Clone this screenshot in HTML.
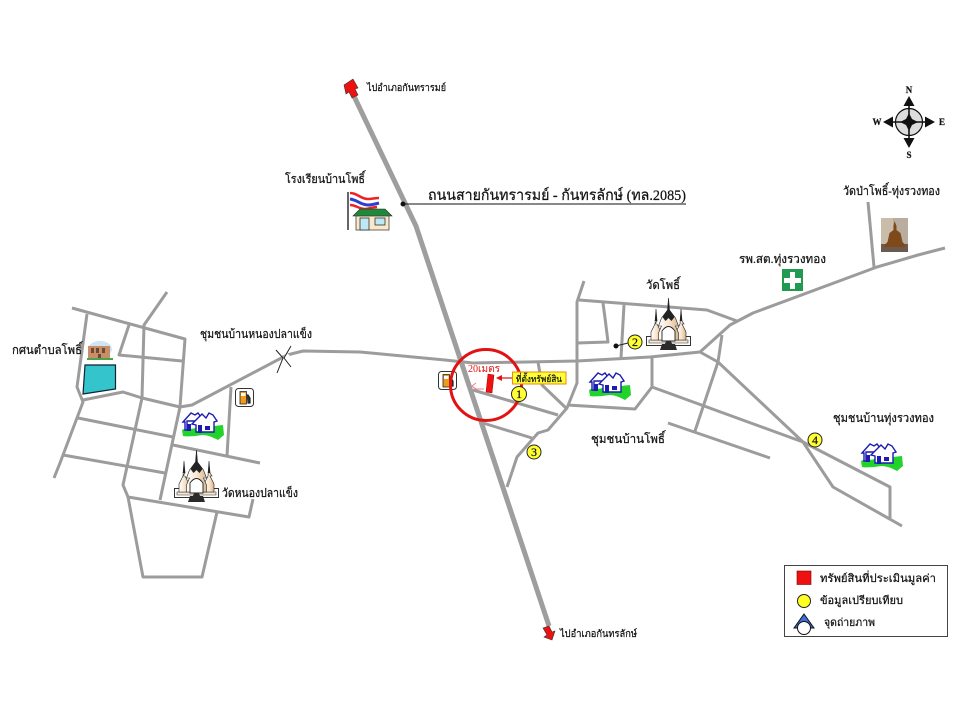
<!DOCTYPE html>
<html lang="th"><head><meta charset="utf-8"><title>แผนที่สังเขป</title>
<style>html,body{margin:0;padding:0;background:#fff}svg{display:block;filter:blur(.3px)}
text{font-family:"Liberation Serif","Noto Serif CJK SC","DejaVu Serif",serif;fill:#111;stroke:#111;stroke-width:.22}
.r{fill:none;stroke:#9c9c9c;stroke-width:3;stroke-linejoin:round;stroke-linecap:butt}
.n{fill:#ffff33;stroke:#222;stroke-width:1}
</style></head><body>
<svg width="960" height="720" viewBox="0 0 960 720" xmlns="http://www.w3.org/2000/svg">
<defs>
<linearGradient id="d" x1="0" y1="0" x2="1" y2="0"><stop offset="0" stop-color="#fff"/><stop offset=".55" stop-color="#f8e4cc"/><stop offset="1" stop-color="#d8b48e"/></linearGradient>
<symbol id="temple" viewBox="0 0 45 52" overflow="visible">
<rect x=".5" y="38.500" width="44" height="9" fill="#fff" stroke="#333" stroke-width="1"/>
<path d="M3 42h39v3H3z" fill="#f5e6d2" stroke="#333" stroke-width=".6"/>
<path d="M10 11l1 12-2 3h2l4 8v8H5v-8l4-8z" fill="url(#d)" stroke="#222" stroke-width=".6"/>
<path d="M35 11l1 12 2 3h-2l4 8v8h-10v-8l4-8z" fill="url(#d)" stroke="#222" stroke-width=".6"/>
<path d="M10 13l1.300 10H8.700zM35 13l1.300 10h-2.600z" fill="#222"/>
<path d="M22.500 0l1 12 6 8 3 8-3 0 3 7v7h-20v-7l3-7-3 0 3-8 6-8z" fill="url(#d)" stroke="#222" stroke-width=".6"/>
<path d="M22.500 0l1 12 5 7-3 4-3-3-3 3-3-4 5-7z" fill="#222"/>
<path d="M16 43V33q6.500-9 13 0v10z" fill="#fff" stroke="#222" stroke-width=".9"/>
<path d="M20 43h5l1 3h3l2 6H14l2-6h3z" fill="#2a2a2a"/>
</symbol>
<symbol id="house" viewBox="0 0 43 29" overflow="visible">
<path d="M1 19c4-3 9 0 13-2l28-3 1 10-6 5c-6-3-10-5-16-5-6 1-13 2-19 1z" fill="#22d32c"/>
<path d="M2 11L10 2l4 2 3-2 3 4 1 4H6v9H4v-8z" fill="#fff" stroke="#1c1cb0" stroke-width="1.400"/>
<path d="M6 13h4v7H6z" fill="#1c1cb0"/>
<path d="M11 13L21 3l4 4 3-5 4 2 4 6-3 1v10H15v-7z" fill="#fff" stroke="#1c1cb0" stroke-width="1.400"/>
<path d="M17 14h4v8h-4zM24 15h5v4h-5z" fill="#1c1cb0"/>
</symbol>
<symbol id="gas" viewBox="0 0 19 19" overflow="visible">
<rect x=".5" y=".5" width="18" height="18" rx="3" fill="#fff" stroke="#333" stroke-width="1"/>
<path d="M5 3.500h6.500V16H5z" fill="#f09a1a" stroke="#222" stroke-width=".8"/>
<rect x="6" y="5" width="4.500" height="3" fill="#fff"/>
<path d="M11.500 7h1.500l2 3v5h-2.500" fill="#333" stroke="#222" stroke-width="1.200"/>
</symbol>
</defs>

<!-- main highway -->
<path d="M352 92L416 226L549 626" fill="none" stroke="#9e9e9e" stroke-width="5"/>

<!-- west network -->
<g class="r">
<path d="M72 308L185 339L180 407"/>
<path d="M87 314L77 387L83 402L60 463L54 478"/>
<path d="M167 292L144 325L142 398L123 485L128 497L143 577L202 577L217 512"/>
<path d="M129 325L119 355L182 361"/>
<path d="M83 400L123 392L142 398L180 407L192 405L287 355L303 351L360 352L445 360L473 363L577 361L650 357L700 352L730 325L753 313L877 267L918 255L945 248"/>
<path d="M78 418L173 437"/>
<path d="M63 455L165 473"/>
<path d="M180 407L160 500"/>
<path d="M128 497L249 517L253 499"/>
<path d="M173 445L260 463"/>
<path d="M231 387L227 456"/>
<!-- centre -->
<path d="M584 281L577 302L577 383L567 408L548 430L538 433L517 457L507 487"/>
<path d="M538 362L542 385L566 408"/>
<path d="M473 390L558 415"/>
<path d="M483 423L532 438"/>
<path d="M567 405L635 409L652 387L652 357"/>
<!-- east -->
<path d="M579 300L707 310L737 321"/>
<path d="M603 303L605 318L608 342L577 343"/>
<path d="M624 305L621 358"/>
<path d="M652 387L803 442L890 487L890 518"/>
<path d="M700 352L718 362L803 442L833 487L902 526"/>
<path d="M722 335L718 362L695 431"/>
<path d="M668 423L770 458"/>
<path d="M868 202L874 267"/>
</g>

<!-- road break -->
<path d="M282 363L288 354" fill="none" stroke="#fff" stroke-width="4"/>
<path d="M291 346L284 358L291 367M276 350L283 358L277 373" fill="none" stroke="#222" stroke-width="1"/>

<!-- road end arrows -->
<path d="M344 85L353 79L358 88L355 89L358 95L352 98L349 92L346 94z" fill="#ee1111" stroke="#333" stroke-width=".6"/>
<path d="M543 628L549 626L552 632L555 631L552 640L544 637L547 635z" fill="#ee1111" stroke="#333" stroke-width=".6"/>

<!-- nongkran / teal plot -->
<path d="M85 365H115.500V389L83 394z" fill="#33c4cc" stroke="#123" stroke-width="1.200"/>
<g>
<ellipse cx="100" cy="349" rx="12" ry="8" fill="#cfe4f5"/>
<path d="M88 346h22v12H88z" fill="#c98d68"/>
<path d="M91 348h3v5h-3zM96 348h3v5h-3zM102 348h3v5h-3zM98 354h3v4h-3z" fill="#6b4a36"/>
<path d="M87 358h26v2H87z" fill="#4aa54a"/>
</g>

<!-- icons -->
<use href="#temple" x="174" y="450" width="45" height="52"/>
<use href="#temple" x="646" y="298" width="45" height="52"/>
<use href="#house" x="181" y="411" width="43" height="29"/>
<use href="#house" x="588" y="371" width="43" height="29"/>
<use href="#house" x="860" y="442" width="43" height="29"/>
<use href="#gas" x="235" y="388" width="19" height="19"/>
<use href="#gas" x="438" y="371" width="19" height="19"/>

<!-- hospital -->
<rect x="782" y="269" width="21" height="22" fill="#1f9a50"/>
<path d="M790 272h5v6h6v5h-6v6h-5v-6h-6v-5h6z" fill="#fff"/>

<!-- Buddha -->
<rect x="881" y="218" width="27" height="34" fill="#b9ad9f"/>
<rect x="881" y="218" width="12" height="26" fill="#c9bdaa"/>
<rect x="881" y="244" width="27" height="8" fill="#6a5a50"/>
<path d="M894.500 221l2 5v4l4 3 2 9 3 3v2h-21v-2l3-3 2-9 4-3v-4z" fill="#7e4a1c"/>

<!-- school -->
<path d="M348 192v38" stroke="#666" stroke-width="2"/>
<path d="M350 193c8 0 10 6 18 6 4 0 7-1 11-1" fill="none" stroke="#ee2222" stroke-width="2.500"/>
<path d="M350 199c8 1 10 6 18 6 4 0 7-1 11-2" fill="none" stroke="#2b3fd0" stroke-width="3"/>
<path d="M350 205c6 0 9 4 15 4 4 0 8-2 12-2" fill="none" stroke="#ee2222" stroke-width="2.500"/>
<path d="M353 216l7-7h25l7 7z" fill="#1d8a3a" stroke="#222" stroke-width=".6"/>
<rect x="356" y="216" width="33" height="14" fill="#fbe8c8" stroke="#444" stroke-width=".8"/>
<rect x="360" y="218" width="9" height="12" fill="#bfe8f6" stroke="#333" stroke-width=".8"/>
<rect x="375" y="218" width="10" height="7" fill="#bfe8f6" stroke="#333" stroke-width=".8"/>

<!-- subject -->
<circle cx="486" cy="385" r="35.500" fill="none" stroke="#e21212" stroke-width="3"/>
<path d="M488 374L494 375L492 393L486 392z" fill="#ee1111" stroke="#a00" stroke-width=".5"/>
<rect x="512.500" y="372" width="53.500" height="12" fill="#ffff33" stroke="#e88a10" stroke-width="1"/>
<path d="M512 378H501" stroke="#e21212" stroke-width="1.200"/>
<path d="M496 378l6-3v6z" fill="#e21212"/>
<path d="M476 383l-4 3 4 3M480 389l4 0M475 389h5" fill="none" stroke="#f08080" stroke-width="1"/>

<!-- numbered points -->
<circle class="n" cx="519" cy="394" r="7.500"/>
<circle class="n" cx="534" cy="452" r="7"/>
<circle class="n" cx="815" cy="440" r="7"/>
<path d="M616 346L628 343" stroke="#222" stroke-width="1"/>
<circle cx="616" cy="346" r="2.500" fill="#111"/>
<circle class="n" cx="635" cy="342" r="7"/>
<g font-size="12" text-anchor="middle">
<text x="519" y="398">1</text><text x="534" y="456">3</text><text x="815" y="444">4</text><text x="635" y="346">2</text>
</g>

<!-- compass -->
<circle cx="909" cy="122" r="13.500" fill="#ddd" stroke="#111" stroke-width="1.200"/>
<path d="M909 96l5.500 10h-4.700v32h4.700l-5.500 10-5.500-10h4.700v-32h-4.700zM883 122l10-5.500v4.700h32v-4.700l10 5.500-10 5.500v-4.700h-32v4.700z" fill="#111"/>
<path d="M909 113l3 6 6 3-6 3-3 6-3-6-6-3 6-3z" fill="#111"/>
<g font-size="9" text-anchor="middle" font-weight="bold">
<text x="909" y="93">N</text><text x="909" y="158">S</text><text x="877" y="125">W</text><text x="942" y="125">E</text>
</g>

<!-- road label -->
<path d="M403 204H686" stroke="#111" stroke-width="1"/>
<circle cx="403" cy="204" r="2.500" fill="#111"/>

<!-- legend -->
<rect x="784.500" y="565.500" width="163" height="71" fill="#fff" stroke="#444" stroke-width="1"/>
<rect x="797" y="571" width="14" height="13.500" fill="#ee1111" stroke="#700" stroke-width=".6"/>
<circle cx="804" cy="601" r="6.500" fill="#ffff22" stroke="#222" stroke-width="1"/>
<path d="M804 614l10 14h-20z" fill="#3a6fd8" stroke="#111" stroke-width="1"/>
<circle cx="804" cy="628" r="6.500" fill="#fff" stroke="#111" stroke-width="1"/>

<!-- text -->
<text x="428" y="200" font-size="15" textLength="258" lengthAdjust="spacingAndGlyphs">ถนนสายกันทรารมย์ - กันทรลักษ์ (ทล.2085)</text>
<text x="367" y="91" font-size="10" textLength="79" lengthAdjust="spacingAndGlyphs">ไปอำเภอกันทรารมย์</text>
<text x="560" y="637" font-size="10" textLength="77" lengthAdjust="spacingAndGlyphs">ไปอำเภอกันทรลักษ์</text>
<text x="285" y="183" font-size="12" textLength="80" lengthAdjust="spacingAndGlyphs">โรงเรียนบ้านโพธิ์</text>
<text x="200" y="338" font-size="12" textLength="112" lengthAdjust="spacingAndGlyphs">ชุมชนบ้านหนองปลาแข็ง</text>
<text x="12" y="354" font-size="12" textLength="70" lengthAdjust="spacingAndGlyphs">กศนตำบลโพธิ์</text>
<text x="222" y="497" font-size="12" textLength="76" lengthAdjust="spacingAndGlyphs">วัดหนองปลาแข็ง</text>
<text x="646" y="289" font-size="12" textLength="34" lengthAdjust="spacingAndGlyphs">วัดโพธิ์</text>
<text x="739" y="263" font-size="12" textLength="87" lengthAdjust="spacingAndGlyphs">รพ.สต.ทุ่งรวงทอง</text>
<text x="843" y="195" font-size="12" textLength="97" lengthAdjust="spacingAndGlyphs">วัดป่าโพธิ์-ทุ่งรวงทอง</text>
<text x="833" y="422" font-size="12" textLength="101" lengthAdjust="spacingAndGlyphs">ชุมชนบ้านทุ่งรวงทอง</text>
<text x="591" y="443" font-size="12" textLength="74" lengthAdjust="spacingAndGlyphs">ชุมชนบ้านโพธิ์</text>
<text x="468" y="372" font-size="10" style="fill:#e21212;stroke:none" textLength="32" lengthAdjust="spacingAndGlyphs">20เมตร</text>
<text x="516" y="382" font-size="9" textLength="46" lengthAdjust="spacingAndGlyphs">ที่ตั้งทรัพย์สิน</text>
<text x="820" y="582" font-size="11" textLength="116" lengthAdjust="spacingAndGlyphs">ทรัพย์สินที่ประเมินมูลค่า</text>
<text x="820" y="604" font-size="11" textLength="83" lengthAdjust="spacingAndGlyphs">ข้อมูลเปรียบเทียบ</text>
<text x="824" y="626" font-size="11" textLength="51" lengthAdjust="spacingAndGlyphs">จุดถ่ายภาพ</text>
</svg>
</body></html>
